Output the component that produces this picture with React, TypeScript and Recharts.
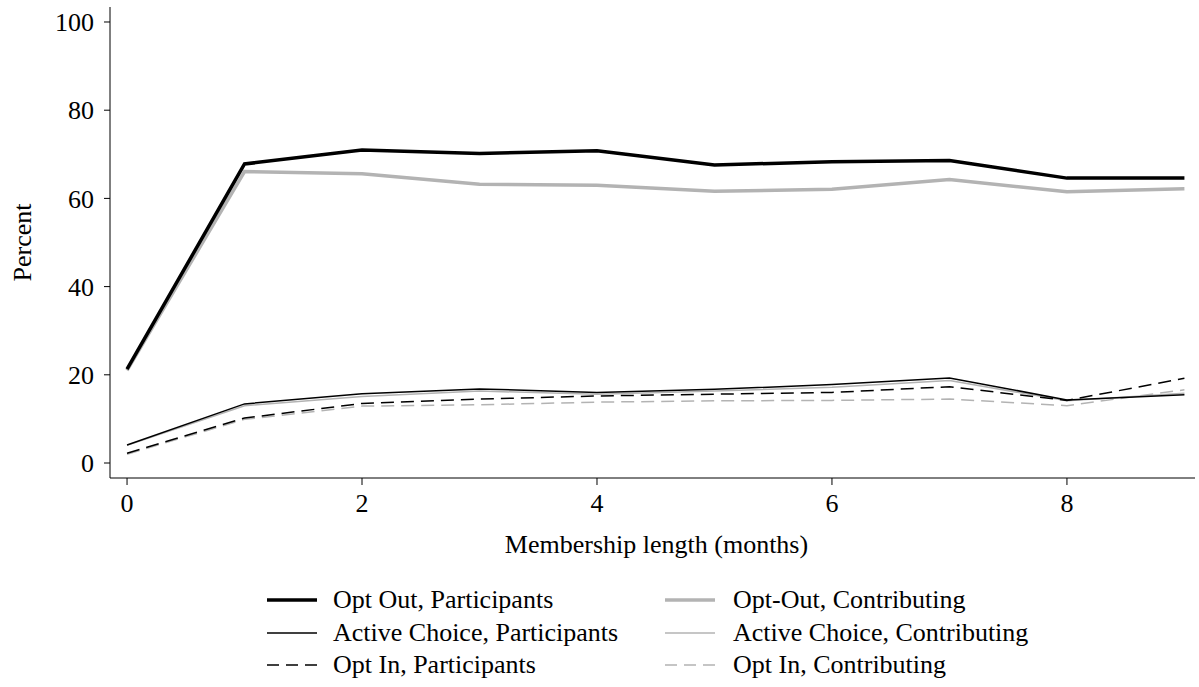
import React from 'react';
import { LineChart, Line, XAxis, YAxis, Legend } from 'recharts';

const months = [0, 1, 2, 3, 4, 5, 6, 7, 8, 9];
const optOutParticipants = [21.3, 67.8, 71.0, 70.2, 70.8, 67.6, 68.3, 68.6, 64.6, 64.6];
const optOutContributing = [21.0, 66.1, 65.6, 63.2, 63.0, 61.6, 62.1, 64.3, 61.5, 62.2];
const activeParticipants = [4.1, 13.4, 15.7, 16.8, 16.0, 16.7, 17.8, 19.3, 14.3, 15.5];
const activeContributing = [4.0, 13.0, 15.1, 16.3, 15.6, 16.3, 17.2, 18.7, 14.1, 15.8];
const optInParticipants = [2.2, 10.2, 13.5, 14.5, 15.2, 15.6, 16.0, 17.3, 14.2, 19.2];
const optInContributing = [2.0, 9.9, 12.9, 13.2, 13.8, 14.1, 14.2, 14.5, 13.0, 16.6];

const xTicks = [0, 2, 4, 6, 8];
const yTicks = [0, 20, 40, 60, 80, 100];

const FONT = '"Liberation Serif", "Times New Roman", serif';
const GREY = '#b3b3b3';

const data = months.map((m, i) => ({
  month: m,
  optOutP: optOutParticipants[i],
  optOutC: optOutContributing[i],
  activeP: activeParticipants[i],
  activeC: activeContributing[i],
  optInP: optInParticipants[i],
  optInC: optInContributing[i],
}));

// legend order (row by row, two columns)
const series = [
  { key: 'optOutP', name: 'Opt Out, Participants', color: '#000', width: 3.5, dash: undefined },
  { key: 'optOutC', name: 'Opt-Out, Contributing', color: GREY, width: 3.5, dash: undefined },
  { key: 'activeP', name: 'Active Choice, Participants', color: '#000', width: 1.5, dash: undefined },
  { key: 'activeC', name: 'Active Choice, Contributing', color: GREY, width: 1.5, dash: undefined },
  { key: 'optInP', name: 'Opt In, Participants', color: '#000', width: 1.5, dash: '13 7' },
  { key: 'optInC', name: 'Opt In, Contributing', color: GREY, width: 1.5, dash: '13 7' },
];

// contributing lines first so the participant lines sit on top
const drawOrder = ['optOutC', 'activeC', 'optInC', 'optOutP', 'activeP', 'optInP'];

const YTitle = (props: any) => {
  const { viewBox } = props;
  const cx = 22;
  const cy = viewBox.y + viewBox.height / 2;
  return (
    <text
      x={cx}
      y={cy}
      transform={`rotate(-90 ${cx} ${cy})`}
      textAnchor="middle"
      dominantBaseline="central"
      fontFamily={FONT}
      fontSize={26}
      fill="#000"
    >
      Percent
    </text>
  );
};

const LegendBox = () => (
  <div style={{ position: 'relative', width: 1199, height: 100, fontFamily: FONT, fontSize: 26 }}>
    {series.map((s, i) => {
      const col = i % 2;
      const row = Math.floor(i / 2);
      return (
        <div
          key={s.key}
          style={{
            position: 'absolute',
            left: col === 0 ? 267 : 665,
            top: row * 32.5,
            height: 32,
            display: 'flex',
            alignItems: 'center',
            whiteSpace: 'nowrap',
          }}
        >
          <svg width={50} height={8} style={{ display: 'block' }}>
            <line
              x1={0}
              y1={4}
              x2={50}
              y2={4}
              stroke={s.color}
              strokeWidth={s.width}
              strokeDasharray={s.dash ? '12 7' : undefined}
            />
          </svg>
          <span style={{ marginLeft: col === 0 ? 16 : 18, lineHeight: '32px', color: '#000' }}>{s.name}</span>
        </div>
      );
    })}
  </div>
);

export default function App() {
  return (
    <div style={{ position: 'absolute', top: 0, left: 0, background: '#fff' }}>
      <LineChart width={1199} height={687} data={data} margin={{ top: 7, right: 4, left: 0, bottom: 129 }}>
        <XAxis
          dataKey="month"
          type="number"
          domain={[-0.145, 9.09]}
          allowDataOverflow
          ticks={xTicks}
          height={80}
          tickSize={7}
          tickMargin={9}
          tick={{ fill: '#000', fontSize: 26, fontFamily: FONT }}
          axisLine={{ stroke: '#000', strokeWidth: 1 }}
          tickLine={{ stroke: '#000', strokeWidth: 1 }}
          label={{
            value: 'Membership length (months)',
            position: 'insideBottom',
            offset: 5,
            dx: 4,
            fill: '#000',
            fontSize: 26,
            fontFamily: FONT,
          }}
        />
        <YAxis
          type="number"
          domain={[-3.4, 103.4]}
          allowDataOverflow
          ticks={yTicks}
          width={110}
          tickSize={6}
          tickMargin={10}
          tick={{ fill: '#000', fontSize: 26, fontFamily: FONT }}
          axisLine={{ stroke: '#000', strokeWidth: 1 }}
          tickLine={{ stroke: '#000', strokeWidth: 1 }}
          label={<YTitle />}
        />
        <Legend
          layout="horizontal"
          verticalAlign="middle"
          align="center"
          content={<LegendBox />}
          wrapperStyle={{ top: 584, left: 0, width: 1199 }}
        />
        {drawOrder.map((k) => {
          const s = series.find((x) => x.key === k)!;
          return (
            <Line
              key={s.key}
              type="linear"
              dataKey={s.key}
              name={s.name}
              stroke={s.color}
              strokeWidth={s.width}
              strokeDasharray={s.dash}
              dot={false}
              activeDot={false}
              isAnimationActive={false}
            />
          );
        })}
      </LineChart>
    </div>
  );
}
